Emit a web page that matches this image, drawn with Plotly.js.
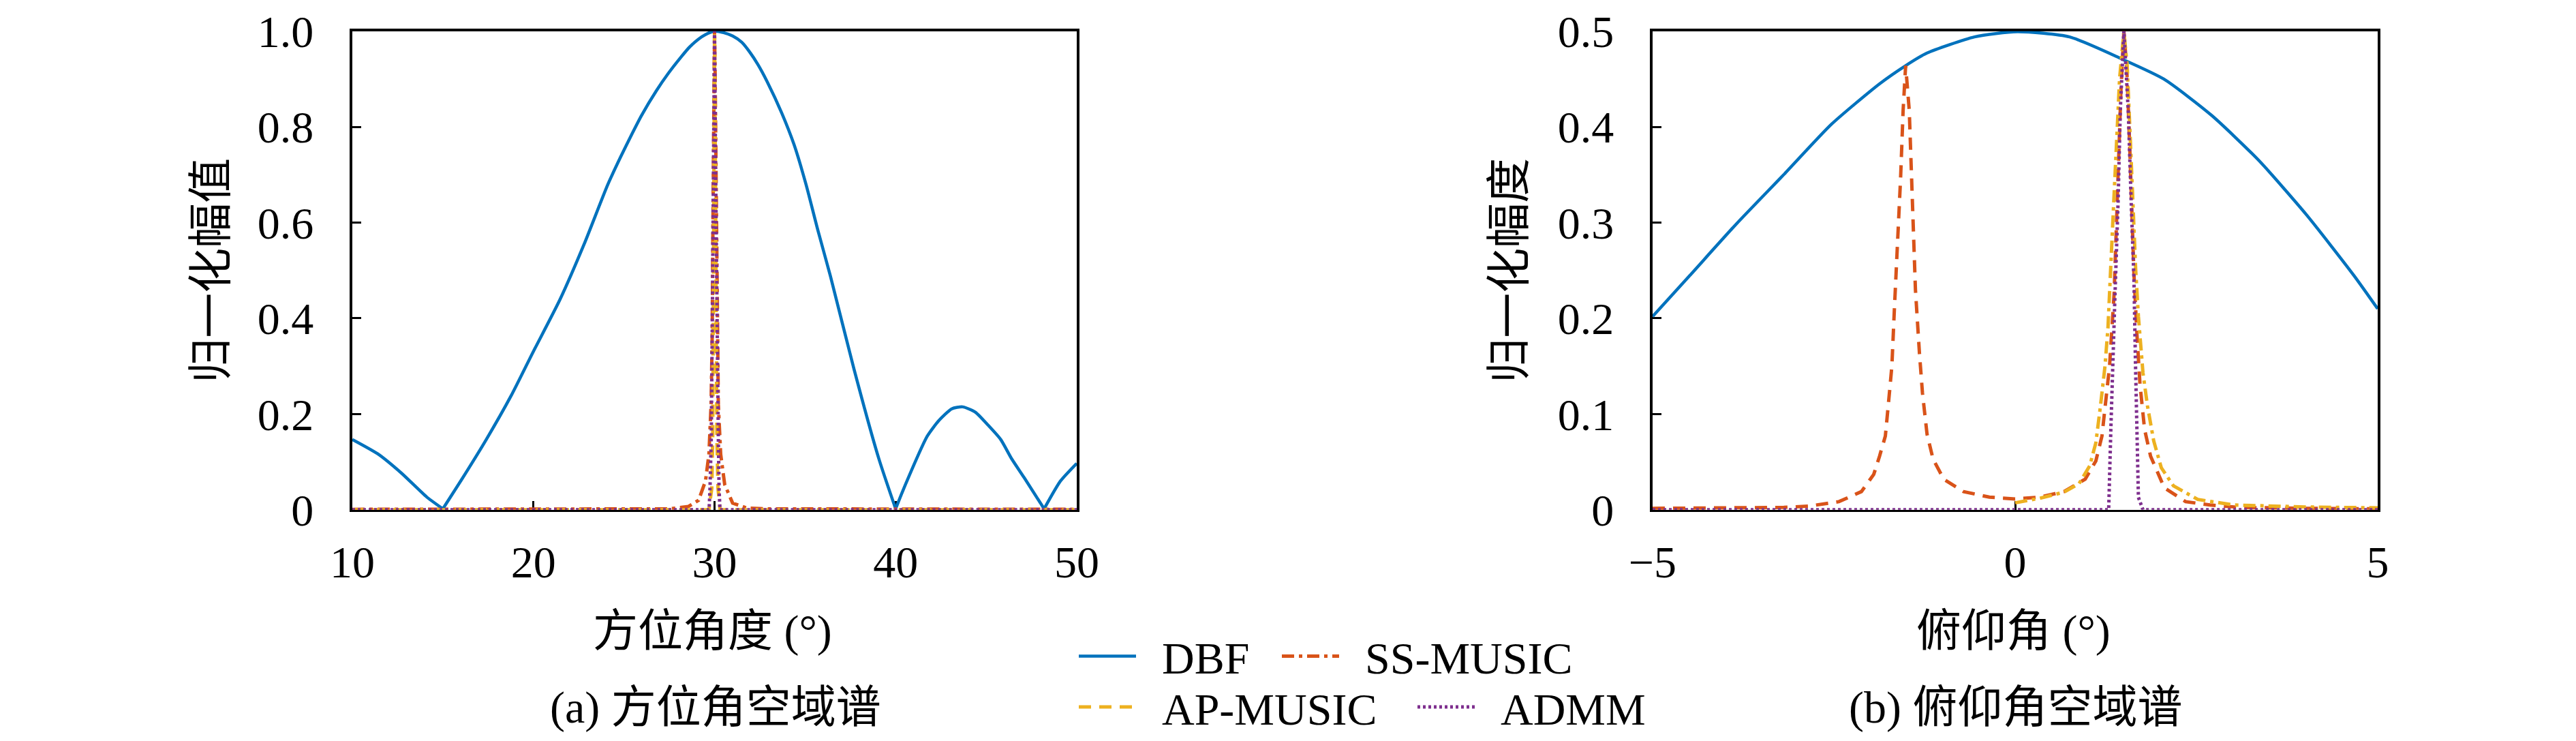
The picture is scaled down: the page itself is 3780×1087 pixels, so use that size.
<!DOCTYPE html>
<html>
<head>
<meta charset="utf-8">
<script src="https://cdn.plot.ly/plotly-3.0.1.min.js"></script>
<style>
  html, body { margin: 0; padding: 0; background: #fff; }
  #chart { width: 3780px; height: 1087px; }
</style>
</head>
<body>
<div id="chart"></div>
<script>
// ---- (a) azimuth spectrum ----
var azX = [10, 11.4, 12.7, 14.1, 15.0, 16.1, 17.4, 18.75, 20, 21.45, 22.8, 24.1, 24.8, 25.45, 25.97, 26.78,
  27.45, 28.13, 28.6, 29.1, 29.5, 30, 30.5, 31, 31.5, 31.97, 32.4, 32.9, 33.7, 34.4, 35.05, 35.7, 36.4, 37.7, 39.07, 40, 40.4,
  41.75, 42.4, 43.1, 43.7, 44.4, 45.1, 45.8, 46.4, 47.1, 48.2, 49.1, 50];
var azDBF = [0.147, 0.117, 0.077, 0.027, 0.002, 0.067, 0.147, 0.237, 0.331, 0.438, 0.555, 0.679, 0.736, 0.786, 0.824, 0.875,
  0.912, 0.945, 0.966, 0.983, 0.993, 1.0, 0.997, 0.99, 0.977, 0.955, 0.93, 0.895, 0.83, 0.762, 0.68, 0.585, 0.488, 0.294, 0.107, 0.002, 0.04,
  0.154, 0.187, 0.211, 0.215, 0.204, 0.177, 0.147, 0.107, 0.067, 0.002, 0.06, 0.097];

var azSSx = [10, 20, 26, 27.55, 28.56, 29.12, 29.5, 29.69, 29.81, 29.87, 29.92, 29.97, 30, 30.03, 30.09, 30.16,
  30.21, 30.34, 30.56, 31.0, 31.8, 33, 40, 50];
var azSS = [0.001, 0.001, 0.0015, 0.002, 0.007, 0.02, 0.06, 0.116, 0.22, 0.36, 0.64, 0.92, 1.0, 0.92, 0.64, 0.36,
  0.22, 0.116, 0.053, 0.014, 0.0035, 0.002, 0.001, 0.001];

var azAPx = [10, 29.69, 29.85, 29.9, 29.925, 29.96, 30, 30.05, 30.088, 30.13, 30.19, 30.31, 50];
var azAP = [0, 0, 0.045, 0.15, 0.36, 0.71, 1.0, 0.71, 0.36, 0.15, 0.045, 0, 0];

var azADx = [10, 29.7, 29.75, 29.82, 29.87, 29.93, 30, 30.06, 30.13, 30.21, 30.25, 30.3, 50];
var azAD = [0, 0, 0.045, 0.15, 0.36, 0.71, 1.0, 0.71, 0.36, 0.15, 0.045, 0, 0];

// ---- (b) elevation spectrum ----
var elX = [-5, -4.49, -3.84, -3.18, -2.53, -1.87, -1.51, -1.22, -0.56, 0.03, 0.75, 1.47, 2.05, 2.71, 3.36, 4.02, 4.67, 5];
var elDBF = [0.202, 0.2445, 0.299, 0.351, 0.403, 0.445, 0.464, 0.477, 0.494, 0.4995, 0.494, 0.471, 0.450, 0.412, 0.365, 0.308, 0.245, 0.210];

var elSSx = [-5, -4, -3.19, -2.85, -2.43, -2.12, -1.95, -1.87, -1.79, -1.74, -1.70, -1.665, -1.62, -1.58, -1.545, -1.51,
  -1.46, -1.43, -1.40, -1.375, -1.32, -1.278, -1.215, -1.132, -0.985, -0.712, -0.355, 0, 0.337, 0.673, 0.966,
  1.113, 1.197, 1.26, 1.302, 1.365, 1.42, 1.46, 1.5, 1.54, 1.58, 1.638, 1.68, 1.722, 1.785, 1.868, 2.057, 2.351,
  2.687, 3.1, 4, 5];
var elSS = [0.0015, 0.002, 0.0025, 0.0038, 0.0085, 0.019, 0.037, 0.056, 0.077, 0.117, 0.150, 0.21, 0.275, 0.346, 0.417, 0.464,
  0.417, 0.346, 0.275, 0.23, 0.164, 0.122, 0.079, 0.053, 0.032, 0.019, 0.0132, 0.0113, 0.0132, 0.019, 0.032,
  0.051, 0.077, 0.117, 0.150, 0.226, 0.35, 0.44, 0.5, 0.46, 0.38, 0.247, 0.183, 0.131, 0.084, 0.056, 0.023, 0.0085,
  0.005, 0.0025, 0.0015, 0.001];

var elAPx = [0, 0.337, 0.673, 0.882, 1.029, 1.113, 1.176, 1.239, 1.28, 1.31, 1.36, 1.39, 1.44, 1.5, 1.545, 1.585,
  1.623, 1.662, 1.70, 1.763, 1.826, 1.911, 2.015, 2.183, 2.519, 3.02, 4, 5];
var elAP = [0.0073, 0.012, 0.0184, 0.0274, 0.046, 0.070, 0.108, 0.150, 0.19, 0.247, 0.322, 0.37, 0.45, 0.5, 0.464, 0.393,
  0.322, 0.2515, 0.202, 0.143, 0.108, 0.072, 0.044, 0.025, 0.0108, 0.005, 0.003, 0.002];

var elADx = [-5, 1.29, 1.32, 1.344, 1.375, 1.42, 1.45, 1.5, 1.56, 1.60, 1.638, 1.659, 1.68, 1.70, 1.763, 5];
var elAD = [0, 0, 0.084, 0.155, 0.22, 0.322, 0.417, 0.5, 0.417, 0.322, 0.242, 0.155, 0.060, 0.013, 0, 0];

var FONT = "'Liberation Serif', 'Noto Sans CJK SC', serif";
var C_DBF = "#0072BD", C_SS = "#D95319", C_AP = "#EDB120", C_AD = "#7E2F8E";
var DASH = "18px,12px", DASHDOT = "18px,7px,5px,7px", DOT = "4px,4px";

// the DBF azimuth pattern has sharp nulls: draw each lobe as its own smooth piece
function lobes(xs, ys) {
  var cuts = [0];
  for (var i = 1; i < ys.length - 1; i++) {
    if (ys[i] < ys[i - 1] && ys[i] < ys[i + 1]) cuts.push(i);
  }
  cuts.push(ys.length - 1);
  var out = [];
  for (var j = 0; j < cuts.length - 1; j++) {
    out.push({ x: xs.slice(cuts[j], cuts[j + 1] + 1), y: ys.slice(cuts[j], cuts[j + 1] + 1) });
  }
  return out;
}

var traces = [];
lobes(azX, azDBF).forEach(function (seg, k) {
  traces.push({ x: seg.x, y: seg.y, xaxis: "x", yaxis: "y", type: "scatter", mode: "lines",
    name: "\u2002DBF", legendgroup: "dbf", showlegend: k === 0, legend: "legend",
    line: { color: C_DBF, width: 4.5, shape: "spline", smoothing: 0.6 } });
});

traces.push(
  { x: azSSx, y: azSS, xaxis: "x", yaxis: "y", type: "scatter", mode: "lines", name: "\u2002SS-MUSIC",
    legend: "legend2", line: { color: C_SS, width: 5, dash: DASHDOT } },
  { x: azAPx, y: azAP, xaxis: "x", yaxis: "y", type: "scatter", mode: "lines", name: "\u2002AP-MUSIC",
    legend: "legend3", line: { color: C_AP, width: 5, dash: DASH } },
  { x: azADx, y: azAD, xaxis: "x", yaxis: "y", type: "scatter", mode: "lines", name: "\u2002ADMM",
    legend: "legend4", line: { color: C_AD, width: 5, dash: DOT } },

  { x: elX, y: elDBF, xaxis: "x2", yaxis: "y2", type: "scatter", mode: "lines", showlegend: false,
    line: { color: C_DBF, width: 4.5, shape: "spline", smoothing: 0.6 } },
  { x: elSSx, y: elSS, xaxis: "x2", yaxis: "y2", type: "scatter", mode: "lines", showlegend: false,
    line: { color: C_SS, width: 5, dash: DASH } },
  { x: elAPx, y: elAP, xaxis: "x2", yaxis: "y2", type: "scatter", mode: "lines", showlegend: false,
    line: { color: C_AP, width: 5, dash: DASHDOT } },
  { x: elADx, y: elAD, xaxis: "x2", yaxis: "y2", type: "scatter", mode: "lines", showlegend: false,
    line: { color: C_AD, width: 5, dash: DOT } }
);

function axisStyle(extra) {
  var a = {
    showline: true, mirror: true, linecolor: "black", linewidth: 3.5,
    ticks: "inside", ticklen: 13, tickwidth: 3, tickcolor: "black",
    showgrid: false, zeroline: false, layer: "below traces",
    tickfont: { family: FONT, size: 66, color: "black" },
    ticklabelstandoff: 40
  };
  for (var k in extra) a[k] = extra[k];
  return a;
}

// one single-entry legend per item, placed where the reference has it
function legendAt(px, row) {
  return {
    orientation: "h", x: (px - 5) / 3780, xanchor: "left",
    y: row === 0 ? 0.1095 : 0.0405, yanchor: "middle",
    bgcolor: "rgba(0,0,0,0)", borderwidth: 0, itemwidth: 84,
    font: { family: FONT, size: 66, color: "black" }
  };
}

var yDom = [0.3082, 0.9577];

var layout = {
  width: 3780, height: 1087,
  margin: { l: 0, r: 0, t: 0, b: 0 },
  paper_bgcolor: "white", plot_bgcolor: "white",
  font: { family: FONT, size: 66, color: "black" },
  xaxis: axisStyle({ domain: [0.13677, 0.41799], range: [10, 50], tickvals: [10, 20, 30, 40, 50],
    ticklabelstandoff: 16 }),
  yaxis: axisStyle({ domain: yDom, range: [0, 1], tickvals: [0, 0.2, 0.4, 0.6, 0.8, 1.0],
    ticktext: ["0", "0.2", "0.4", "0.6", "0.8", "1.0"] }),
  xaxis2: axisStyle({ domain: [0.64153, 0.92302], range: [-5, 5], tickvals: [-5, 0, 5],
    ticktext: ["\u22125", "0", "5"], anchor: "y2", ticklabelstandoff: 16 }),
  yaxis2: axisStyle({ domain: yDom, range: [0, 0.5], tickvals: [0, 0.1, 0.2, 0.3, 0.4, 0.5],
    ticktext: ["0", "0.1", "0.2", "0.3", "0.4", "0.5"], anchor: "x2" }),
  legend: legendAt(1583, 0),
  legend2: legendAt(1881, 0),
  legend3: legendAt(1583, 1),
  legend4: legendAt(2080, 1),
  annotations: [
    { text: "方位角度 (°)", xref: "paper", yref: "paper", x: 1045 / 3780, y: (1087 - 931) / 1087,
      xanchor: "center", yanchor: "middle", showarrow: false },
    { text: "(a) 方位角空域谱", xref: "paper", yref: "paper", x: 1050 / 3780, y: (1087 - 1044) / 1087,
      xanchor: "center", yanchor: "middle", showarrow: false },
    { text: "归一化幅值", xref: "paper", yref: "paper", x: 310 / 3780, y: (1087 - 399) / 1087,
      xanchor: "center", yanchor: "middle", textangle: -90, showarrow: false },
    { text: "俯仰角 (°)", xref: "paper", yref: "paper", x: 2954 / 3780, y: (1087 - 931) / 1087,
      xanchor: "center", yanchor: "middle", showarrow: false },
    { text: "(b) 俯仰角空域谱", xref: "paper", yref: "paper", x: 2957 / 3780, y: (1087 - 1044) / 1087,
      xanchor: "center", yanchor: "middle", showarrow: false },
    { text: "归一化幅度", xref: "paper", yref: "paper", x: 2215 / 3780, y: (1087 - 399) / 1087,
      xanchor: "center", yanchor: "middle", textangle: -90, showarrow: false }
  ]
};

Plotly.newPlot("chart", traces, layout, { staticPlot: true });
</script>
</body>
</html>
